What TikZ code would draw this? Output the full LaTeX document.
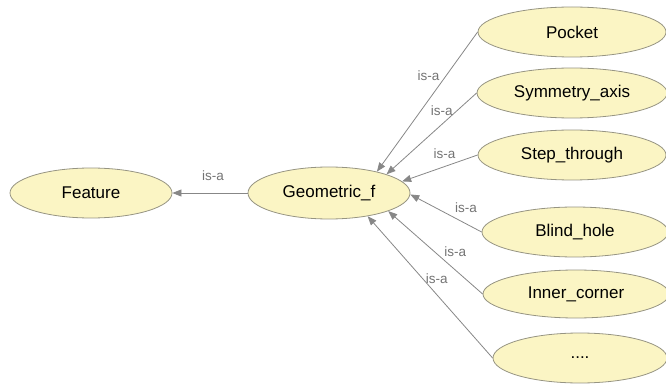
\documentclass[tikz,border=0pt]{standalone}
\usepackage{fontspec}
\setmainfont{Liberation Sans}
\usetikzlibrary{shapes.geometric,arrows.meta}
\definecolor{conceptfill}{RGB}{251,245,196}
\definecolor{conceptline}{RGB}{150,148,130}
\definecolor{relline}{RGB}{135,135,135}
\definecolor{reltext}{RGB}{115,115,115}
\tikzset{
  concept/.style={ellipse, draw=conceptline, fill=conceptfill, line width=0.8pt,
    inner sep=0pt, font=\fontsize{17}{20}\selectfont},
  isa/.style={draw=relline, line width=0.8pt,
    -{Triangle[length=9pt,width=7pt,fill=relline]}},
  isalabel/.style={text=reltext, inner sep=0pt, font=\fontsize{13.5}{16}\selectfont}
}
\begin{document}
\begin{tikzpicture}[x=1pt,y=-1pt]
  \useasboundingbox (0,0) rectangle (666,387);

  % superclass chain
  \node[concept, minimum width=162pt, minimum height=50pt] (feature) at (91,193) {Feature};
  \node[concept, minimum width=162pt, minimum height=52pt] (geo) at (329,193) {Geometric\_f};

  % subclasses
  \node[concept, minimum width=188pt, minimum height=50pt] (pocket) at (572,32) {Pocket};
  \node[concept, minimum width=190pt, minimum height=50pt] (sym) at (572,93) {Symmetry\_axis};
  \node[concept, minimum width=188pt, minimum height=50pt] (step) at (572,155) {Step\_through};
  \node[concept, minimum width=186pt, minimum height=50pt] (blind) at (575,232) {Blind\_hole};
  \node[concept, minimum width=186pt, minimum height=48pt] (inner) at (576,294) {Inner\_corner};
  \node[concept, minimum width=174pt, minimum height=50pt] (more) at (580,358) {....};

  % is-a relations
  \draw[isa] (geo.west) -- node[isalabel, pos=0.46, yshift=17pt] {is-a} (feature.east);
  \draw[isa] (pocket.west) -- node[isalabel, pos=0.31, xshift=-18pt] {is-a} (geo.24.5);
  \draw[isa] (sym.west) -- node[isalabel, pos=0.22, xshift=-15pt] {is-a} (geo.18.7);
  \draw[isa] (step.west) -- node[isalabel, pos=0.44, yshift=13pt] {is-a} (geo.9.7);
  \draw[isa] (blind.west) -- node[isalabel, pos=0.22, yshift=16pt] {is-a} (geo.-1.4);
  \draw[isa] (inner.west) -- node[isalabel, pos=0.29, yshift=18pt] {is-a} (geo.-17.9);
  \draw[isa] (more.west) -- node[isalabel, pos=0.56, xshift=14pt] {is-a} (geo.-31.4);
\end{tikzpicture}
\end{document}
